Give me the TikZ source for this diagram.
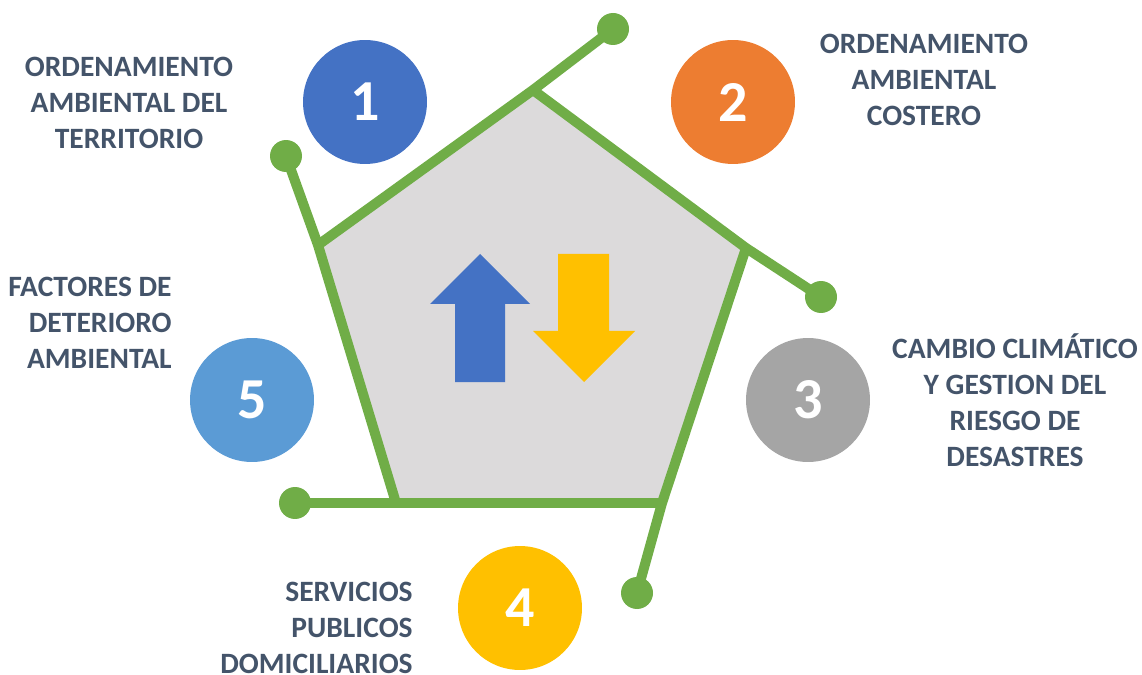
\documentclass[tikz,border=0pt]{standalone}
\usepackage{fontspec}
\setmainfont{Carlito}
\definecolor{cblue}{HTML}{4472C4}
\definecolor{corange}{HTML}{ED7D31}
\definecolor{cgray}{HTML}{A5A5A5}
\definecolor{cyellow}{HTML}{FFC000}
\definecolor{clight}{HTML}{5B9BD5}
\definecolor{cgreen}{HTML}{70AD47}
\definecolor{penfill}{HTML}{DCDADB}
\definecolor{ctext}{HTML}{44546A}
\tikzset{edge/.style={cgreen,line width=0.2cm}}
\begin{document}
\begin{tikzpicture}[x=0.02cm,y=-0.02cm]
  \useasboundingbox (0,0) rectangle (1142,675);
  \coordinate (T)  at (533,90);
  \coordinate (R)  at (746,248);
  \coordinate (BR) at (662,503);
  \coordinate (BL) at (396,503);
  \coordinate (L)  at (318,245);
  \fill[penfill] (L) -- (T) -- (R) -- (BR) -- (BL) -- cycle;
  % up and down arrows
  \fill[cblue] (455,382) -- (455,304) -- (430,304) -- (480,254) -- (530,304) -- (505,304) -- (505,382) -- cycle;
  \fill[cyellow] (558,254) -- (609,254) -- (609,331) -- (635,331) -- (584,382) -- (533,331) -- (558,331) -- cycle;
  \begin{scope}
    \tikzstyle{every node}=[circle,fill=cgreen,minimum size=0.64cm,inner sep=0pt]
    \node (dT)  at (613,29) {};
    \node (dR)  at (821,297) {};
    \node (dBR) at (637,593) {};
    \node (dBL) at (295,503) {};
    \node (dL)  at (286,156) {};
  \end{scope}
  \draw[edge] (L) -- (T) -- (dT.center);
  \draw[edge] (T) -- (R) -- (dR.center);
  \draw[edge] (R) -- (BR) -- (dBR.center);
  \draw[edge] (BR) -- (BL) -- (dBL.center);
  \draw[edge] (BL) -- (L) -- (dL.center);
  \begin{scope}
    \tikzstyle{every node}=[circle,minimum size=2.48cm,inner sep=0pt,text=white,font=\fontsize{33}{33}\selectfont\bfseries]
    \node[fill=cblue]   (n1) at (365,102) {1};
    \node[fill=corange] (n2) at (733,102) {2};
    \node[fill=cgray]   (n3) at (808,400) {3};
    \node[fill=cyellow] (n4) at (520,608) {4};
    \node[fill=clight]  (n5) at (252,400) {5};
  \end{scope}
  \begin{scope}
    \tikzstyle{every node}=[text=ctext,align=center,inner sep=0pt,font=\fontsize{16.8}{20.5}\selectfont\bfseries]
    \node (t1) at (129,103) {ORDENAMIENTO\\AMBIENTAL DEL\\TERRITORIO};
    \node (t2) at (924,80) {ORDENAMIENTO\\AMBIENTAL\\COSTERO};
    \node (t3) at (1015,400) {CAMBIO CLIMÁTICO\\Y GESTION DEL\\RIESGO DE\\DESASTRES};
    \node[anchor=east,align=right] (t4) at (413,628) {SERVICIOS\\PUBLICOS\\DOMICILIARIOS};
    \node[anchor=east,align=right] (t5) at (172,323) {FACTORES DE\\DETERIORO\\AMBIENTAL};
  \end{scope}
\end{tikzpicture}
\end{document}
